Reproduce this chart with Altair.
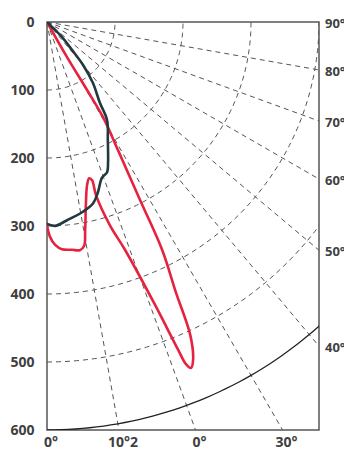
import altair as alt
import numpy as np
import pandas as pd

# Polar photometric curves: angle from nadir (deg), intensity value
dark_angle = [0, 2.2, 5.8, 10.7, 14.3, 16.7, 19.4, 21.8, 23.4, 27.3, 31.5, 33.2, 37, 40, 41.8, 45, 45, 90]
dark_value = [297, 300, 293, 284, 275, 261, 243, 238, 226, 195, 169, 142, 112, 82.5, 55, 31, 12.5, 0]

red_angle = [0, 0.8, 2.1, 3.8, 6.3, 8.2, 9.4, 10.4, 12.0, 13.8, 15.1, 15.9, 15.8, 17.2, 18.9,
             20.9, 21.8, 22.1, 22.6, 23.4, 24.6, 25.5, 26.8, 27.6, 29, 30.5, 30.5, 29.7, 30]
red_value = [299, 316, 328, 335, 337, 339, 334, 311, 275, 247, 238, 242, 265, 313, 354,
             445, 519, 543, 551, 541, 506, 440, 376, 295, 215, 162, 116, 59, 0]

radial_ticks = [0, 100, 200, 300, 400, 500, 600]
grid_radii = [100, 200, 300, 400, 500]
outer_radius = [600]
spoke_angles = [10, 20, 30, 40, 50, 60, 70, 80]
right_angles = [90, 80, 70, 60, 50, 40]
right_labels = ["90°", "80°", "70°", "60°", "50°", "40°"]
bottom_angles = [0, 10, 20, 30]
bottom_labels = ["0°", "10°2", "0°", "30°"]

X_MAX, Y_MAX = 400, 600
FONT = "Open Sans"
LABEL_COLOR = "#404040"

xs = alt.X("x:Q", scale=alt.Scale(domain=[0, X_MAX], nice=False, zero=False), axis=None)
ys = alt.Y("y:Q", scale=alt.Scale(domain=[0, Y_MAX], reverse=True, nice=False, zero=False),
           axis=alt.Axis(values=radial_ticks, title=None, grid=False, ticks=False, domain=False,
                         labelFont=FONT, labelFontSize=14, labelFontWeight="bold",
                         labelColor=LABEL_COLOR, labelPadding=13, labelFlush=False,
                         labelOverlap=False))

# grid geometry
th = np.radians(np.arange(0, 90.5, 1.0))
arc_rows = []
for r in grid_radii:
    for i, t in enumerate(th):
        arc_rows.append({"r": r, "i": i, "x": r * np.sin(t), "y": r * np.cos(t)})
arcs = pd.DataFrame(arc_rows)
outer_rows = [{"r": r, "i": i, "x": r * np.sin(t), "y": r * np.cos(t)}
              for r in outer_radius for i, t in enumerate(th)]
outer = pd.DataFrame(outer_rows)
spoke_rows = []
for a in spoke_angles:
    spoke_rows.append({"a": a, "i": 0, "x": 0.0, "y": 0.0})
    spoke_rows.append({"a": a, "i": 1, "x": 1500 * np.sin(np.radians(a)), "y": 1500 * np.cos(np.radians(a))})
spokes = pd.DataFrame(spoke_rows)

arc_layer = alt.Chart(arcs).mark_line(clip=True, strokeDash=[5, 4], color="#555555", strokeWidth=1).encode(
    x=xs, y=ys, detail="r:N", order="i:Q")
spoke_layer = alt.Chart(spokes).mark_line(clip=True, strokeDash=[5, 4], color="#555555", strokeWidth=1).encode(
    x=xs, y=ys, detail="a:N", order="i:Q")
outer_layer = alt.Chart(outer).mark_line(clip=True, color="#222222", strokeWidth=1.3).encode(
    x=xs, y=ys, detail="r:N", order="i:Q")

red = pd.DataFrame({"angle": red_angle, "value": red_value, "i": range(len(red_angle))})
dark = pd.DataFrame({"angle": dark_angle, "value": dark_value, "i": range(len(dark_angle))})

def curve(df, color):
    return alt.Chart(df).transform_calculate(
        x="datum.value * sin(datum.angle * PI / 180)",
        y="datum.value * cos(datum.angle * PI / 180)",
    ).mark_line(clip=True, color=color, strokeWidth=2.6, strokeJoin="round", strokeCap="round",
                interpolate="catmull-rom").encode(
        x=xs, y=ys, order="i:Q")

red_layer = curve(red, "#e6223f")
dark_layer = curve(dark, "#243840")

right_df = pd.DataFrame({"angle": right_angles, "label": right_labels})
right_layer = alt.Chart(right_df).transform_calculate(
    x=str(X_MAX),
    y=f"{X_MAX} * cos(datum.angle * PI / 180) / sin(datum.angle * PI / 180)",
).mark_text(align="left", baseline="middle", dx=6, dy=2, font=FONT, fontSize=13,
            fontWeight="bold", color=LABEL_COLOR).encode(x=xs, y=ys, text="label:N")

bottom_df = pd.DataFrame({"angle": bottom_angles, "label": bottom_labels})
bottom_layer = alt.Chart(bottom_df).transform_calculate(
    x=f"{Y_MAX} * tan(datum.angle * PI / 180)",
    y=str(Y_MAX),
).mark_text(align="center", baseline="middle", dx=4, dy=13, font=FONT, fontSize=14,
            fontWeight="bold", color=LABEL_COLOR).encode(x=xs, y=ys, text="label:N")

chart = alt.layer(arc_layer, spoke_layer, outer_layer, red_layer, dark_layer,
                  right_layer, bottom_layer).properties(
    width=272, height=408, autosize="none",
    padding={"left": 39, "top": 14, "right": 25, "bottom": 22},
    background="white",
).configure_view(stroke="#555555", strokeWidth=1.5)

chart.save("out.html", embed_options={"renderer": "svg", "actions": False})
